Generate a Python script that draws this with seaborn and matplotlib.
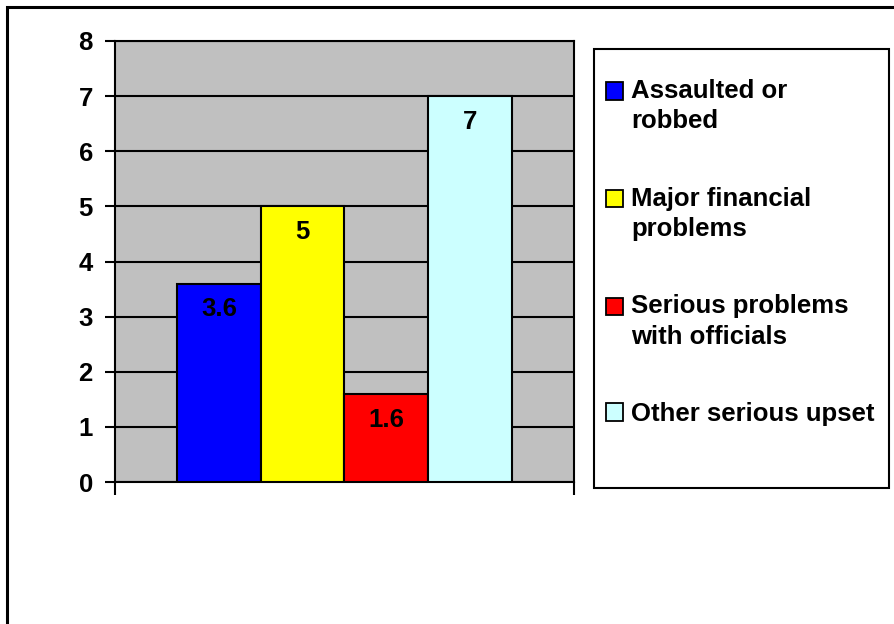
import matplotlib
matplotlib.use("Agg")
import matplotlib.pyplot as plt
from matplotlib.patches import Patch, Rectangle
from matplotlib.legend_handler import HandlerPatch
import seaborn as sns
import pandas as pd

categories = ["Assaulted or\nrobbed", "Major financial\nproblems",
              "Serious problems\nwith officials", "Other serious upset"]
values = [3.6, 5, 1.6, 7]
bar_colors = ["#0000FF", "#FFFF00", "#FF0000", "#CCFFFF"]
y_ticks = [0, 1, 2, 3, 4, 5, 6, 7, 8]

sns.set_theme(style="white")
plt.rcParams["font.family"] = ["Liberation Sans", "DejaVu Sans"]
plt.rcParams["font.weight"] = "bold"
plt.rcParams["text.color"] = "black"
plt.rcParams["axes.labelcolor"] = "black"
plt.rcParams["xtick.color"] = "black"
plt.rcParams["ytick.color"] = "black"

FS = 18.5
LINESP = 1.33

W, H = 894, 624
fig = plt.figure(figsize=(W / 100, H / 100), dpi=100)
fig.patch.set_facecolor("white")

# outer chart border (left and top edges visible)
fig.add_artist(Rectangle((7 / W, -0.2), 1.5, 1.2 - 7 / H, transform=fig.transFigure,
                         fill=False, edgecolor="black", linewidth=2.2))

ax = fig.add_axes([115 / W, 1 - 482 / H, (574 - 115) / W, (482 - 41) / H])
ax.set_facecolor("#C0C0C0")

df = pd.DataFrame({"cat": categories, "val": values})
sns.barplot(data=df, x="cat", y="val", hue="cat", palette=bar_colors,
            saturation=1, width=1.0, edgecolor="black", linewidth=1.5,
            legend=False, ax=ax, zorder=3)

ax.set_ylim(0, 8)
ax.set_xlim(-1.24, 4.24)
ax.set_yticks(y_ticks)
ax.set_yticklabels([str(t) for t in y_ticks], fontsize=FS, fontweight="bold")
ax.set_xticks([-1.24, 4.24])
ax.set_xticklabels(["", ""])
ax.set_xlabel("")
ax.set_ylabel("")
ax.yaxis.grid(True, color="black", linewidth=1.5, zorder=1)
ax.set_axisbelow(True)
ax.tick_params(axis="y", direction="out", length=7.5, width=1.5, pad=8.5,
               colors="black", left=True)
ax.tick_params(axis="x", direction="out", length=9.5, width=1.5, bottom=True)
for s in ax.spines.values():
    s.set_visible(True)
    s.set_color("black")
    s.set_linewidth(1.5)

# value labels inside the top of each bar
for i, v in enumerate(values):
    ax.text(i, v - 0.47, f"{v:g}", ha="center", va="center",
            fontsize=FS, fontweight="bold", color="black", zorder=5)


class TopLineSquare(HandlerPatch):
    """Square legend key aligned with the first line of a wrapped label."""

    def __init__(self, nlines, **kw):
        super().__init__(**kw)
        self.nlines = nlines

    def create_artists(self, legend, orig_handle, xdescent, ydescent,
                       width, height, fontsize, trans):
        lift = 0.5 * (self.nlines - 1) * 0.909 * fontsize * LINESP
        p = Rectangle((-xdescent, -ydescent + lift), width, height,
                      facecolor=orig_handle.get_facecolor(),
                      edgecolor="black", linewidth=1.3)
        p.set_transform(trans)
        return [p]


# legend box
fig.add_artist(Rectangle((594 / W, 1 - 488 / H), (889 - 594) / W, (488 - 49) / H,
                         transform=fig.transFigure, facecolor="white",
                         edgecolor="black", linewidth=1.5))
handles = [Patch(facecolor=c) for c in bar_colors]
hmap = {h: TopLineSquare(lab.count("\n") + 1) for h, lab in zip(handles, categories)}
leg = fig.legend(handles, categories, loc="upper left",
                 bbox_to_anchor=(606 / W, 1 - 79 / H), frameon=False,
                 prop={"size": FS, "weight": "bold"}, handler_map=hmap,
                 handlelength=0.66, handleheight=0.66, handletextpad=0.32,
                 labelspacing=2.08, borderpad=0, borderaxespad=0)
for t in leg.get_texts():
    t.set_linespacing(LINESP)
    t.set_color("black")

fig.savefig("out.png", dpi=100)
